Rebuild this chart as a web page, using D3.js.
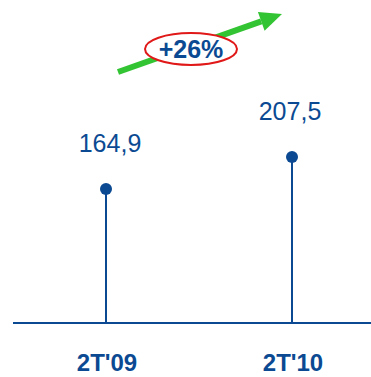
<!DOCTYPE html>
<html>
<head>
<meta charset="utf-8">
<script src="https://cdn.jsdelivr.net/npm/d3@7"></script>
<style>
  html, body { margin: 0; padding: 0; background: #fff; }
  svg { display: block; }
</style>
</head>
<body>
<svg id="chart" width="371" height="377"></svg>
<script>
// Quarterly values (lollipop chart)
const categories = ["2T'09", "2T'10"];
const values = [164.9, 207.5];
const valueLabels = ["164,9", "207,5"];
const growthLabel = "+26%";

const blue = "#0b4a92";
const svg = d3.select("#chart");

const x = d3.scalePoint()
  .domain(categories)
  .range([106, 292]);

const y = d3.scaleLinear()
  .domain([-13, 207.5])
  .range([323, 157]);

const baseY = 323;

// Baseline
svg.append("line")
  .attr("x1", 13).attr("x2", 371)
  .attr("y1", baseY).attr("y2", baseY)
  .attr("stroke", blue).attr("stroke-width", 2);

const data = categories.map((c, i) => ({ c, v: values[i], label: valueLabels[i] }));

// Stems
svg.selectAll("line.stem").data(data).enter().append("line")
  .attr("class", "stem")
  .attr("x1", d => x(d.c)).attr("x2", d => x(d.c))
  .attr("y1", baseY).attr("y2", d => y(d.v))
  .attr("stroke", blue).attr("stroke-width", 2);

// Dots
svg.selectAll("circle.dot").data(data).enter().append("circle")
  .attr("class", "dot")
  .attr("cx", d => x(d.c)).attr("cy", d => y(d.v))
  .attr("r", 6)
  .attr("fill", blue);

// Value labels
svg.selectAll("text.val").data(data).enter().append("text")
  .attr("class", "val")
  .attr("x", (d, i) => x(d.c) + (i === 0 ? 4 : -2))
  .attr("y", d => y(d.v) - 37)
  .attr("text-anchor", "middle")
  .attr("font-family", "Liberation Sans, Arial, sans-serif")
  .attr("font-size", 25)
  .attr("fill", blue)
  .text(d => d.label);

// Category labels
svg.selectAll("text.cat").data(data).enter().append("text")
  .attr("class", "cat")
  .attr("x", d => x(d.c) + 1)
  .attr("y", 371)
  .attr("text-anchor", "middle")
  .attr("font-family", "Liberation Sans, Arial, sans-serif")
  .attr("font-weight", "bold")
  .attr("font-size", 24)
  .attr("fill", blue)
  .text(d => d.c);

// Growth arrow
const green = "#33c433";
const ax0 = 118, ay0 = 72, ax1 = 282, ay1 = 14;
const ang = Math.atan2(ay1 - ay0, ax1 - ax0);
const headLen = 22, headW = 10;
const bx = ax1 - headLen * Math.cos(ang), by = ay1 - headLen * Math.sin(ang);
svg.append("line")
  .attr("x1", ax0).attr("y1", ay0)
  .attr("x2", bx).attr("y2", by)
  .attr("stroke", green).attr("stroke-width", 6);
const px = -Math.sin(ang), py = Math.cos(ang);
svg.append("path")
  .attr("d", `M${ax1},${ay1} L${bx + px * headW},${by + py * headW} L${bx - px * headW},${by - py * headW} Z`)
  .attr("fill", green);

// Growth badge
svg.append("ellipse")
  .attr("cx", 191).attr("cy", 49)
  .attr("rx", 46).attr("ry", 16)
  .attr("fill", "#fff")
  .attr("stroke", "#e01818").attr("stroke-width", 2);
svg.append("text")
  .attr("x", 191).attr("y", 58)
  .attr("text-anchor", "middle")
  .attr("font-family", "Liberation Sans, Arial, sans-serif")
  .attr("font-weight", "bold")
  .attr("font-size", 25)
  .attr("fill", blue)
  .text(growthLabel);
</script>
</body>
</html>
